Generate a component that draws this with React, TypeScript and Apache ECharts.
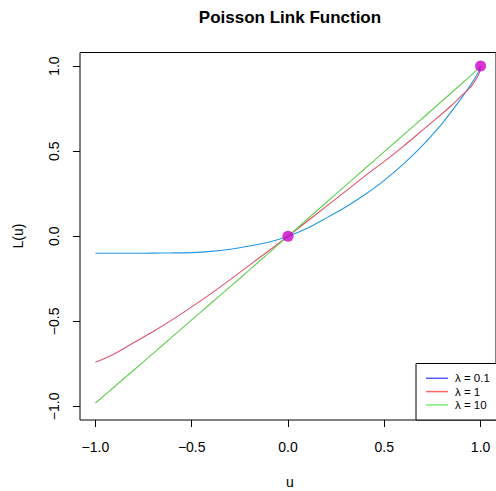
import React, { useEffect, useRef } from "react";
import * as echarts from "echarts";

const uValues = [-1, -0.98, -0.9, -0.8, -0.7, -0.6, -0.5, -0.4, -0.3, -0.2, -0.1, 0, 0.1, 0.2, 0.3, 0.4, 0.5, 0.6, 0.7, 0.8, 0.85, 0.9, 0.95, 0.98, 0.995, 1];
const blueValues = [-0.1, -0.1, -0.1, -0.1, -0.099, -0.098, -0.096, -0.089, -0.076, -0.057, -0.035, 0, 0.047, 0.108, 0.172, 0.245, 0.328, 0.425, 0.535, 0.662, 0.735, 0.81, 0.893, 0.948, 0.982, 1];
const redValues = [-0.74, -0.732, -0.69, -0.625, -0.56, -0.49, -0.415, -0.337, -0.255, -0.17, -0.085, 0, 0.088, 0.177, 0.265, 0.355, 0.44, 0.53, 0.625, 0.72, 0.77, 0.825, 0.88, 0.93, 0.965, 1];
const greenValues = [-0.98, -0.961, -0.883, -0.786, -0.688, -0.59, -0.492, -0.394, -0.296, -0.198, -0.099, 0, 0.1, 0.2, 0.299, 0.398, 0.497, 0.596, 0.695, 0.795, 0.845, 0.895, 0.946, 0.978, 0.995, 1];
const seriesNames = ["λ = 0.1", "λ = 1", "λ = 10"];
const dotPoints = [[0, 0], [1, 1]];
const tickValues = [-1, -0.5, 0, 0.5, 1];

const FONT = "'Liberation Sans', Arial, Helvetica, sans-serif";

export default function App() {
  const ref = useRef<HTMLDivElement>(null);
  useEffect(() => {
    document.body.style.margin = "0";
    if (!ref.current) return;
    const chart = echarts.init(ref.current, null, { renderer: "svg" });
    const pair = (ys: number[]) => uValues.map((u, i) => [u, ys[i]]);
    const fmt = (v: number) => v.toFixed(1).replace("-", "\u2212");
    const lineColors = ["#2297E6", "#DF536B", "#61D04F"];
    const legendColors = ["#5555ff", "#ff6666", "#77ee77"];
    const axisCommon = {
      type: "value" as const,
      min: -1.08,
      max: 1.08,
      axisLine: { show: false, onZero: false },
      splitLine: { show: false },
      axisTick: { show: true, inside: false, length: 7, customValues: tickValues, lineStyle: { color: "#000", width: 1 } },
    };
    chart.setOption({
      animation: false,
      grid: { left: 80, top: 52.5, width: 420, height: 367.5, show: true, borderColor: "#000", borderWidth: 1, backgroundColor: "transparent" },
      xAxis: {
        ...axisCommon,
        position: "bottom",
        axisLabel: { customValues: tickValues, formatter: fmt, margin: 20, fontSize: 14, color: "#000", fontFamily: FONT },
      },
      yAxis: {
        ...axisCommon,
        position: "left",
        axisLabel: { customValues: tickValues, formatter: fmt, margin: 19.5, rotate: 90, fontSize: 14, color: "#000", fontFamily: FONT },
      },
      legend: {
        orient: "vertical",
        left: 416,
        top: 363.5,
        padding: [8.8, 20, 9.1, 10],
        itemGap: 1.3,
        itemWidth: 22,
        itemHeight: 1.5,
        icon: "rect",
        selectedMode: false,
        borderColor: "#000",
        borderWidth: 1,
        borderRadius: 0,
        backgroundColor: "#fff",
        textStyle: { fontSize: 11.5, lineHeight: 12, color: "#000", fontFamily: FONT, padding: [0, 0, 0, 2] },
        data: seriesNames.map((n, i) => ({ name: n, itemStyle: { color: legendColors[i] } })),
      },
      graphic: [
        { type: "text", x: 290, y: 17.5, style: { text: "Poisson Link Function", font: `bold 17px ${FONT}`, fill: "#000", textAlign: "center", textVerticalAlign: "middle" } },
        { type: "text", x: 290, y: 482, style: { text: "u", font: `14px ${FONT}`, fill: "#000", textAlign: "center", textVerticalAlign: "middle" } },
        { type: "text", x: 18, y: 236, rotation: Math.PI / 2, style: { text: "L(u)", font: `14px ${FONT}`, fill: "#000", textAlign: "center", textVerticalAlign: "middle" } },
      ],
      series: [
        ...[blueValues, redValues, greenValues].map((ys, i) => ({
          name: seriesNames[i],
          type: "line",
          data: pair(ys),
          showSymbol: false,
          symbol: "none",
          smooth: 0.25,
          lineStyle: { color: lineColors[i], width: 1.1 },
          itemStyle: { color: lineColors[i] },
          z: 2,
        })),
        {
          name: "points",
          type: "scatter",
          data: dotPoints,
          symbolSize: 11,
          itemStyle: { color: "#CD00CD" },
          z: 5,
        },
      ],
    });
    return () => chart.dispose();
  }, []);
  return <div ref={ref} style={{ width: 496, height: 491 }} />;
}
